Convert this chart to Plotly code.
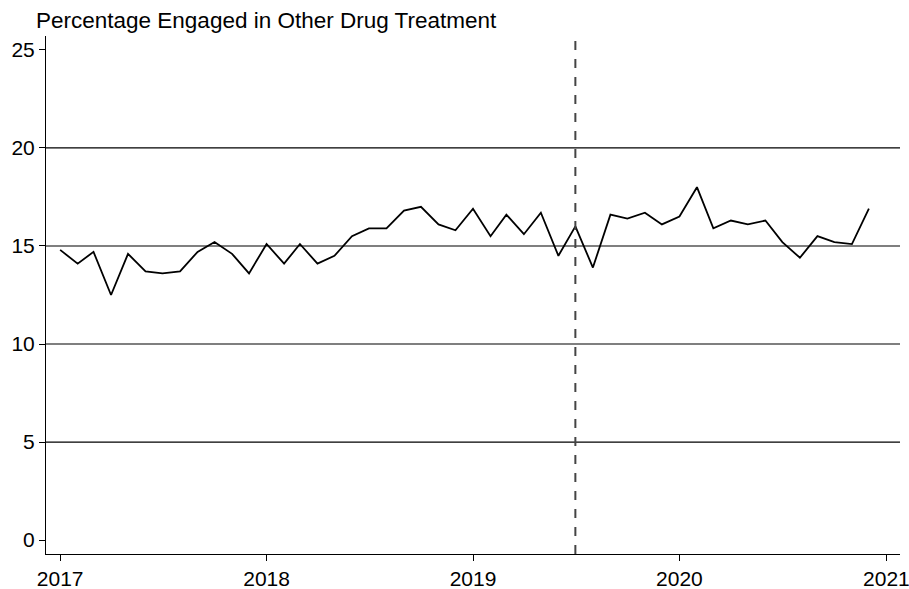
import plotly.graph_objects as go
import pandas as pd

# monthly percentage, Jan 2017 - Dec 2020
months = pd.date_range("2017-01-01", "2020-12-01", freq="MS")
pct = [14.8, 14.1, 14.7, 12.5, 14.6, 13.7, 13.6, 13.7, 14.7, 15.2, 14.6, 13.6,
       15.1, 14.1, 15.1, 14.1, 14.5, 15.5, 15.9, 15.9, 16.8, 17.0, 16.1, 15.8,
       16.9, 15.5, 16.6, 15.6, 16.7, 14.5, 16.0, 13.9, 16.6, 16.4, 16.7, 16.1,
       16.5, 18.0, 15.9, 16.3, 16.1, 16.3, 15.2, 14.4, 15.5, 15.2, 15.1, 16.9]

year_ticks = ["2017-01-01", "2018-01-01", "2019-01-01", "2020-01-01", "2021-01-01"]
year_labels = ["2017", "2018", "2019", "2020", "2021"]
y_ticks = [0, 5, 10, 15, 20, 25]
grid_vals = [5, 10, 15, 20]
cutoff = "2019-07-01"

fig = go.Figure()
fig.add_trace(go.Scatter(x=months, y=pct, mode="lines",
                         line=dict(color="black", width=1.8),
                         showlegend=False))

shapes = []
for g in grid_vals:
    shapes.append(dict(type="line", xref="paper", yref="y", x0=0, x1=1, y0=g, y1=g,
                       line=dict(color="black", width=1.2), layer="below"))
shapes.append(dict(type="line", xref="x", yref="paper", x0=cutoff, x1=cutoff, y0=0, y1=1,
                   line=dict(color="#444444", width=2, dash="dash")))

fig.update_layout(
    width=909, height=589,
    margin=dict(l=46, r=9, t=36, b=35, autoexpand=False),
    plot_bgcolor="white", paper_bgcolor="white",
    font=dict(family="Liberation Sans, Arial, sans-serif", size=21, color="black"),
    title=dict(text="Percentage Engaged in Other Drug Treatment",
               xref="container", yref="container", x=36/909, xanchor="left",
               y=1 - 20/589, yanchor="middle", font=dict(size=22.5)),
    shapes=shapes,
    xaxis=dict(range=["2016-12-07", "2021-01-25"], tickvals=year_ticks, ticktext=year_labels,
               showgrid=False, zeroline=False, showline=True, linecolor="black", linewidth=1,
               ticks="outside", ticklen=6, tickcolor="black", automargin=False,
               ticklabeloverflow="allow"),
    yaxis=dict(range=[-0.71, 25.71], tickvals=y_ticks, showgrid=False, zeroline=False,
               showline=True, linecolor="black", linewidth=1,
               ticks="outside", ticklen=6, tickcolor="black", automargin=False),
)

# drop the page's default body margin so the figure sits at the window corner
fig.write_html("out.html", config={"displayModeBar": False},
               post_script="document.body.style.margin='0';")
